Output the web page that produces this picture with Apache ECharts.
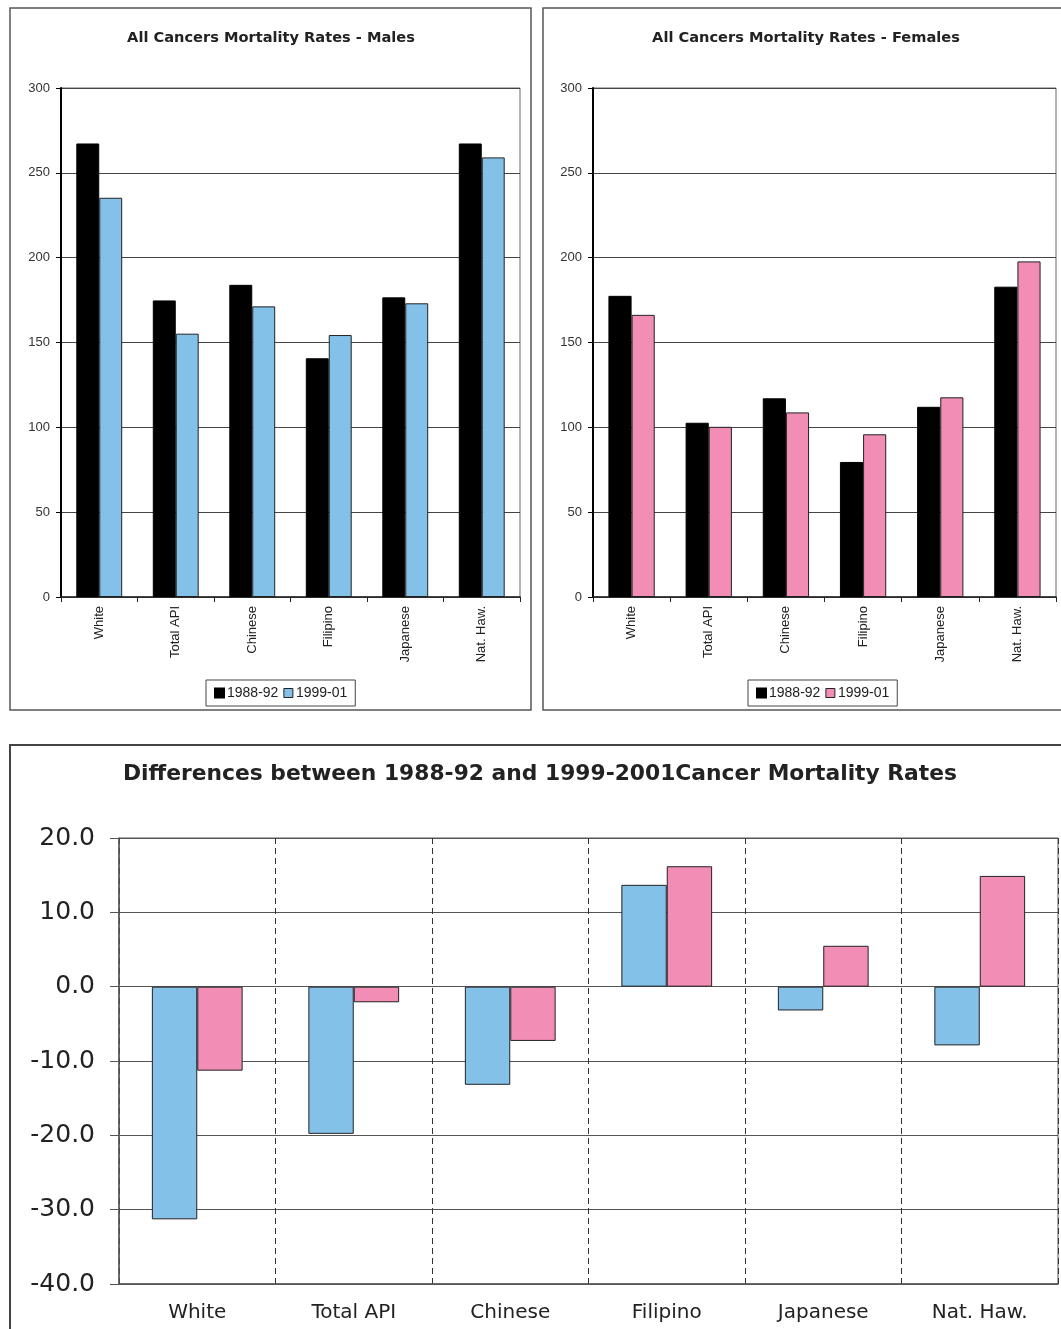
<!DOCTYPE html>
<html>
<head>
<meta charset="utf-8">
<script src="https://cdn.jsdelivr.net/npm/echarts@6/dist/echarts.min.js"></script>
<style>
  html, body { margin: 0; padding: 0; background: #fff; }
  #chart { width: 1061px; height: 1329px; }
</style>
</head>
<body>
<div id="chart"></div>
<script>
// groups shown on every chart
const categories = ['White', 'Total API', 'Chinese', 'Filipino', 'Japanese', 'Nat. Haw.']
const periods = ['1988-92', '1999-01']

// mortality rates per 100,000
const maleEarly = [267.3, 174.8, 184.0, 140.7, 176.6, 267.3]
const maleLate = [235.3, 155.2, 171.3, 154.4, 173.1, 259.1]
const femaleEarly = [177.5, 102.7, 117.1, 79.6, 112.1, 182.9]
const femaleLate = [166.3, 100.3, 108.8, 95.9, 117.7, 197.8]

// change from 1988-92 to 1999-2001
const diffMale = [-31.3, -19.8, -13.2, 13.7, -3.2, -7.9]
const diffFemale = [-11.3, -2.1, -7.3, 16.2, 5.5, 14.9]

const BLUE = '#84c1e9'
const PINK = '#f28db6'
const small = 'Liberation Sans, Arial, sans-serif'
const big = 'DejaVu Sans, sans-serif'

const chart = echarts.init(document.getElementById('chart'))

// the two small charts share almost everything
function smallY (idx) {
  return {
    gridIndex: idx,
    type: 'value',
    min: 0,
    max: 300,
    interval: 50,
    axisLine: { show: true, lineStyle: { color: '#000', width: 2 } },
    axisTick: { show: true, length: 5, lineStyle: { color: '#000' } },
    axisLabel: { fontFamily: small, fontSize: 13, color: '#333', margin: 11 },
    splitLine: { lineStyle: { color: '#444', width: 1.2 } }
  }
}
function smallX (idx) {
  return {
    gridIndex: idx,
    type: 'category',
    data: categories,
    axisLine: { lineStyle: { color: '#222', width: 1.5 } },
    axisTick: { show: true, length: 5, lineStyle: { color: '#222' } },
    axisLabel: { rotate: 90, fontFamily: small, fontSize: 13, color: '#222', margin: 9 }
  }
}
function smallLegend (left, color) {
  return {
    left: left,
    top: 680,
    orient: 'horizontal',
    icon: 'rect',
    itemWidth: 9,
    itemHeight: 9,
    itemGap: 5,
    padding: [6, 8],
    borderColor: '#444',
    borderWidth: 1,
    textStyle: { fontFamily: small, fontSize: 14, color: '#222', padding: [0, 0, 0, -2] },
    data: [
      { name: periods[0], itemStyle: { color: '#000', borderColor: '#000' } },
      { name: periods[1], itemStyle: { color: color, borderColor: '#222', borderWidth: 1 } }
    ]
  }
}
function bars (name, data, color, xi) {
  return {
    name: name,
    type: 'bar',
    xAxisIndex: xi,
    yAxisIndex: xi,
    data: data,
    barGap: '0%',
    barCategoryGap: '40%',
    itemStyle: { color: color, borderColor: color === '#000' ? '#000' : '#222', borderWidth: 1 },
    silent: true
  }
}

const option = {
  animation: false,
  backgroundColor: '#fff',
  graphic: [
    { type: 'rect', shape: { x: 10, y: 8, width: 521, height: 702 }, style: { fill: 'none', stroke: '#555', lineWidth: 1.5 } },
    { type: 'rect', shape: { x: 543, y: 8, width: 540, height: 702 }, style: { fill: 'none', stroke: '#555', lineWidth: 1.5 } },
    { type: 'rect', shape: { x: 10, y: 745, width: 1070, height: 600 }, style: { fill: 'none', stroke: '#444', lineWidth: 2 } }
  ],
  title: [
    { text: 'All Cancers Mortality Rates - Males', left: 266, top: 26, textAlign: 'center', textStyle: { fontFamily: big, fontSize: 14.6, fontWeight: 'bold', color: '#222' } },
    { text: 'All Cancers Mortality Rates - Females', left: 801, top: 26, textAlign: 'center', textStyle: { fontFamily: big, fontSize: 14.6, fontWeight: 'bold', color: '#222' } },
    { text: 'Differences between 1988-92 and 1999-2001Cancer Mortality Rates', left: 535, top: 758, textAlign: 'center', textStyle: { fontFamily: big, fontSize: 21.8, fontWeight: 'bold', color: '#222' } }
  ],
  legend: [
    smallLegend(206, BLUE),
    smallLegend(748, PINK)
  ],
  grid: [
    { left: 61, right: 541, top: 88, bottom: 732, show: true, borderColor: '#666', borderWidth: 1 },
    { left: 593, right: 5, top: 88, bottom: 732, show: true, borderColor: '#666', borderWidth: 1 },
    { left: 119, right: 3, top: 838, bottom: 45, show: true, borderColor: '#555', borderWidth: 1 }
  ],
  xAxis: [
    smallX(0),
    smallX(1),
    {
      gridIndex: 2,
      type: 'category',
      data: categories,
      axisLine: { onZero: false, lineStyle: { color: '#555', width: 1.5 } },
      axisTick: { show: false },
      axisLabel: { fontFamily: big, fontSize: 20, color: '#222', margin: 19 },
      splitLine: { show: true, lineStyle: { color: '#333', type: [6, 4], width: 1 } }
    }
  ],
  yAxis: [
    smallY(0),
    smallY(1),
    {
      gridIndex: 2,
      type: 'value',
      min: -40,
      max: 20,
      interval: 10,
      axisLine: { show: true, lineStyle: { color: '#555', width: 1.5 } },
      axisTick: { show: true, length: 9, lineStyle: { color: '#555' } },
      axisLabel: { fontFamily: big, fontSize: 25, color: '#222', margin: 24, formatter: v => v.toFixed(1) },
      splitLine: { lineStyle: { color: '#555', width: 1.2 } }
    }
  ],
  series: [
    bars(periods[0], maleEarly, '#000', 0),
    bars(periods[1], maleLate, BLUE, 0),
    bars(periods[0], femaleEarly, '#000', 1),
    bars(periods[1], femaleLate, PINK, 1),
    Object.assign(bars('Males', diffMale, BLUE, 2), { barCategoryGap: '42%' }),
    Object.assign(bars('Females', diffFemale, PINK, 2), { barCategoryGap: '42%' })
  ]
}

chart.setOption(option)
</script>
</body>
</html>
